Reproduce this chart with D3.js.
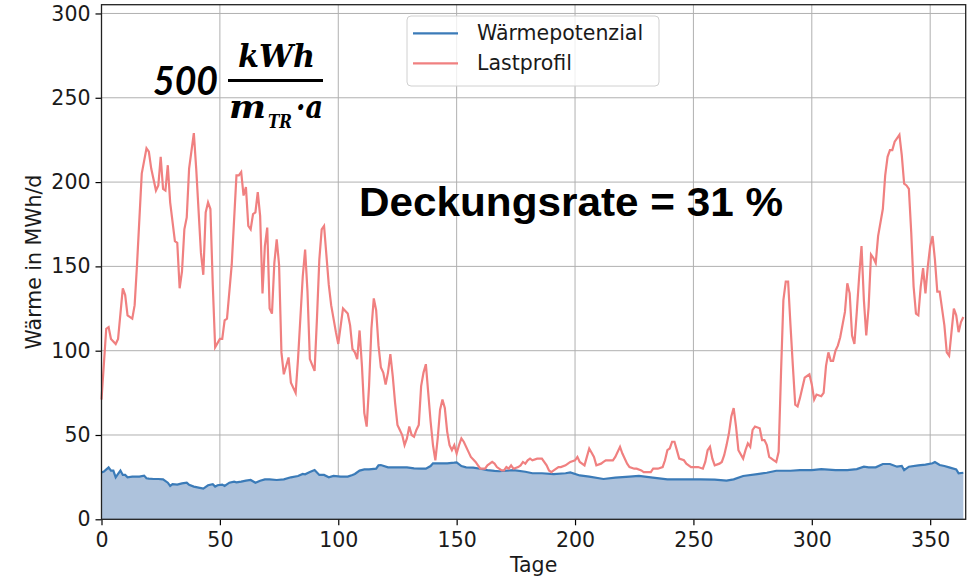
<!DOCTYPE html>
<html>
<head>
<meta charset="utf-8">
<script src="https://cdn.jsdelivr.net/npm/d3@7"></script>
<style>
  body { margin: 0; background: #fff; }
  svg { display: block; font-family: "DejaVu Sans", sans-serif; }
</style>
</head>
<body>
<div id="chart"></div>
<script>
// Achsen
const xTicks = [0, 50, 100, 150, 200, 250, 300, 350];
const yTicks = [0, 50, 100, 150, 200, 250, 300];

// Wärmepotenzial [Tag, MWh/d]
const waermepotenzial = [
  [0, 27.7], [1, 28.3], [3, 30.8], [4, 28.9], [5, 28.9], [6, 24.9], [7, 26.9], [8, 28.9], [9, 26.3], [10, 26.3],
  [11, 24.9], [13, 25.3], [16, 25.3], [18, 25.9], [19, 24.3], [20, 24.1], [22, 23.9], [24, 23.9], [26, 23.7], [28, 21.7],
  [29, 19.8], [30, 20.9], [32, 20.6], [34, 21.3], [36, 21.7], [37, 20.4], [39, 19.4], [41, 18.8], [43, 18.2], [45, 20.2],
  [47, 20.8], [48, 19.4], [49, 20.2], [51, 20.6], [52, 19.8], [54, 21.7], [56, 22.3], [57, 21.9], [59, 22.3], [61, 22.9],
  [63, 23.3], [65, 21.7], [67, 22.9], [69, 23.7], [71, 23.7], [74, 23.3], [77, 23.7], [80, 24.9], [83, 25.7], [85, 26.9],
  [86, 26.7], [88, 28.1], [90, 29.2], [92, 26.3], [94, 26.3], [96, 24.9], [98, 25.7], [101, 25.3], [104, 25.3], [106, 26.3],
  [107, 26.9], [109, 28.9], [111, 29.6], [113, 29.6], [116, 30.0], [117, 32.0], [118, 32.2], [121, 30.8], [123, 30.8], [126, 30.8],
  [129, 30.8], [132, 30.2], [135, 30.0], [137, 30.0], [139, 31.6], [140, 33.2], [143, 33.2], [146, 33.2], [149, 33.6], [150, 33.8],
  [152, 31.6], [154, 30.8], [157, 30.6], [160, 30.0], [163, 29.2], [166, 28.7], [168, 28.5], [174, 29.2], [179, 28.2], [182, 27.3],
  [186, 27.3], [191, 26.8], [196, 27.3], [198, 27.8], [202, 26.0], [206, 25.3], [212, 23.9], [217, 24.7], [223, 25.3], [227, 25.7],
  [232, 24.9], [239, 23.7], [246, 23.7], [253, 23.7], [259, 23.5], [264, 22.9], [267, 23.7], [271, 25.7], [277, 26.8], [281, 27.6],
  [285, 28.8], [291, 28.8], [295, 29.2], [300, 29.2], [304, 29.8], [310, 29.2], [315, 29.2], [319, 29.8], [322, 31.2], [324, 30.8],
  [327, 30.8], [330, 32.8], [333, 32.8], [336, 31.2], [338, 31.6], [339, 29.2], [341, 31.2], [345, 32.0], [348, 32.4], [351, 33.2],
  [352, 34.0], [354, 32.2], [356, 31.6], [358, 30.8], [361, 29.6], [362, 27.3], [364, 27.6]
];

// Lastprofil [Tag, MWh/d]
const lastprofil = [
  [0, 71], [2, 113], [3, 114], [4, 107], [6, 104], [7, 107], [9, 137], [10, 133], [11, 121], [13, 119],
  [14, 127], [15, 151], [17, 205], [19, 220], [20, 218], [21, 208], [23, 195], [24, 198], [25, 215], [26, 196],
  [27, 195], [28, 210], [29, 188], [31, 165], [32, 164], [33, 137], [34, 147], [35, 172], [36, 179], [37, 208],
  [39, 229], [40, 208], [42, 158], [43, 145], [44, 182], [45, 188], [46, 184], [47, 139], [48, 102], [50, 107],
  [51, 107], [52, 118], [53, 119], [55, 151], [57, 204], [58, 204], [59, 206], [60, 192], [61, 197], [62, 174],
  [63, 172], [64, 181], [65, 182], [66, 194], [67, 180], [68, 134], [69, 162], [70, 173], [71, 125], [72, 122],
  [73, 152], [74, 166], [75, 151], [76, 99], [77, 86], [79, 96], [80, 81], [82, 75], [83, 95], [85, 144],
  [86, 160], [87, 135], [88, 95], [90, 88], [91, 119], [92, 154], [93, 172], [94, 174], [96, 139], [97, 127],
  [99, 111], [100, 104], [102, 125], [104, 122], [105, 115], [106, 101], [107, 99], [108, 95], [109, 112], [110, 91],
  [111, 63], [112, 55], [113, 79], [114, 113], [115, 131], [116, 124], [117, 103], [118, 90], [119, 87], [120, 80],
  [121, 87], [122, 98], [123, 85], [124, 69], [125, 56], [126, 53], [127, 50], [128, 44], [129, 48], [130, 55],
  [131, 50], [132, 49], [133, 53], [134, 56], [135, 79], [136, 87], [137, 92], [138, 75], [139, 58], [140, 44],
  [141, 35], [142, 48], [143, 65], [144, 71], [145, 66], [146, 52], [147, 44], [148, 41], [149, 44], [150, 39],
  [151, 44], [152, 48], [153, 46], [155, 40], [156, 37], [158, 34], [159, 32], [160, 30], [162, 30], [163, 32],
  [165, 34], [166, 33], [167, 31], [169, 29], [170, 29], [171, 31], [172, 30], [173, 32], [174, 30], [176, 31],
  [177, 32], [178, 34], [179, 33], [180, 35], [181, 36], [182, 35], [184, 36], [185, 36], [186, 36], [188, 32],
  [189, 29], [190, 28], [191, 29], [193, 31], [194, 31], [196, 32], [197, 33], [198, 34], [200, 35], [201, 37],
  [202, 34], [204, 32], [205, 37], [206, 42], [208, 37], [209, 32], [211, 33], [212, 34], [213, 35], [216, 35],
  [217, 37], [219, 43], [220, 39], [222, 33], [223, 31], [225, 30], [226, 30], [228, 29], [229, 28], [230, 28],
  [232, 28], [233, 30], [235, 30], [237, 31], [238, 35], [239, 41], [240, 42], [241, 46], [242, 46], [243, 41],
  [244, 36], [246, 35], [247, 33], [249, 31], [250, 31], [252, 31], [254, 30], [255, 34], [256, 41], [257, 43],
  [258, 36], [259, 32], [261, 33], [262, 34], [263, 38], [264, 44], [265, 51], [266, 61], [267, 66], [268, 55],
  [269, 41], [271, 36], [272, 41], [273, 45], [274, 43], [275, 53], [276, 55], [278, 54], [279, 47], [280, 47],
  [281, 44], [282, 37], [283, 36], [284, 35], [285, 34], [286, 40], [287, 87], [288, 130], [289, 141], [290, 141],
  [291, 115], [292, 91], [293, 68], [294, 67], [295, 72], [297, 84], [298, 85], [299, 86], [300, 80], [301, 71],
  [302, 74], [304, 73], [305, 75], [306, 91], [307, 99], [308, 94], [309, 94], [310, 100], [311, 103], [312, 108],
  [314, 123], [315, 140], [316, 134], [317, 109], [318, 104], [319, 123], [320, 144], [321, 162], [322, 130], [323, 109],
  [324, 126], [325, 157], [326, 155], [327, 152], [328, 168], [330, 184], [331, 204], [332, 215], [333, 219], [334, 219],
  [335, 224], [337, 228], [338, 216], [339, 199], [340, 198], [341, 196], [342, 170], [343, 138], [344, 122], [345, 121],
  [346, 138], [347, 149], [348, 134], [349, 150], [350, 162], [351, 168], [352, 154], [353, 135], [354, 135], [356, 115],
  [357, 99], [358, 97], [359, 111], [360, 125], [361, 121], [362, 111], [363, 117], [364, 120]
];

const width = 973, height = 581;
const margin = { top: 4.7, right: 7.3, bottom: 61.7, left: 101.5 };

const svg = d3.select("#chart").append("svg")
  .attr("width", width)
  .attr("height", height);

const x = d3.scaleLinear().domain([0, 365]).range([margin.left, width - margin.right]);
const y = d3.scaleLinear().domain([0, 305.2]).range([height - margin.bottom, margin.top]);

// Gitter
svg.append("g")
  .selectAll("line")
  .data(xTicks)
  .join("line")
  .attr("x1", d => x(d)).attr("x2", d => x(d))
  .attr("y1", y.range()[0]).attr("y2", y.range()[1])
  .attr("stroke", "#b0b0b0").attr("stroke-width", 1);

svg.append("g")
  .selectAll("line")
  .data(yTicks)
  .join("line")
  .attr("x1", x.range()[0]).attr("x2", x.range()[1])
  .attr("y1", d => y(d)).attr("y2", d => y(d))
  .attr("stroke", "#b0b0b0").attr("stroke-width", 1);

// Wärmepotenzial als Fläche + Linie
svg.append("path")
  .datum(waermepotenzial)
  .attr("d", d3.area().x(d => x(d[0])).y0(y(0)).y1(d => y(d[1])))
  .attr("fill", "#adc2dc");

svg.append("path")
  .datum(waermepotenzial)
  .attr("d", d3.line().x(d => x(d[0])).y(d => y(d[1])))
  .attr("fill", "none")
  .attr("stroke", "#3b7bb8")
  .attr("stroke-width", 2.2);

svg.append("path")
  .datum(lastprofil)
  .attr("d", d3.line().x(d => x(d[0])).y(d => y(d[1])))
  .attr("fill", "none")
  .attr("stroke", "#f08080")
  .attr("stroke-width", 2.2);

// Achsen
const xAxis = svg.append("g")
  .attr("transform", `translate(0,${y(0)})`)
  .call(d3.axisBottom(x).tickValues(xTicks).tickSize(6).tickPadding(7));
const yAxis = svg.append("g")
  .attr("transform", `translate(${x(0)},0)`)
  .call(d3.axisLeft(y).tickValues(yTicks).tickSize(6).tickPadding(5));

[xAxis, yAxis].forEach(a => {
  a.select(".domain").remove();
  a.selectAll("line").attr("stroke", "#000").attr("stroke-width", 1.2);
  a.selectAll("text").attr("font-family", "DejaVu Sans").attr("font-size", 20.5).attr("fill", "#1a1a1a");
});

// Rahmen
svg.append("rect")
  .attr("x", x.range()[0]).attr("y", y.range()[1])
  .attr("width", x.range()[1] - x.range()[0])
  .attr("height", y.range()[0] - y.range()[1])
  .attr("fill", "none")
  .attr("stroke", "#222")
  .attr("stroke-width", 1.3);

// Achsentitel
svg.append("text")
  .attr("x", (x.range()[0] + x.range()[1]) / 2)
  .attr("y", 572)
  .attr("text-anchor", "middle")
  .attr("font-size", 20.5)
  .attr("fill", "#1a1a1a")
  .text("Tage");

svg.append("text")
  .attr("transform", `translate(41,${(y.range()[0] + y.range()[1]) / 2}) rotate(-90)`)
  .attr("text-anchor", "middle")
  .attr("font-size", 20.5)
  .attr("fill", "#1a1a1a")
  .text("Wärme in MWh/d");

// Legende
const legend = svg.append("g");
legend.append("rect")
  .attr("x", 407).attr("y", 16)
  .attr("width", 252).attr("height", 70)
  .attr("rx", 4)
  .attr("fill", "#fff").attr("fill-opacity", 0.8)
  .attr("stroke", "#d0d0d0");

const legendItems = [
  { name: "Wärmepotenzial", color: "#3b7bb8" },
  { name: "Lastprofil", color: "#f08080" }
];
legendItems.forEach((d, i) => {
  const ly = 33.3 + i * 30;
  legend.append("line")
    .attr("x1", 413).attr("x2", 458)
    .attr("y1", ly).attr("y2", ly)
    .attr("stroke", d.color).attr("stroke-width", 2.2);
  legend.append("text")
    .attr("x", 477).attr("y", ly + 7)
    .attr("font-size", 20.5)
    .attr("fill", "#1a1a1a")
    .text(d.name);
});

// Deckungsrate
svg.append("text")
  .attr("x", 359).attr("y", 215.5)
  .attr("font-family", "Liberation Sans, Arial, sans-serif")
  .attr("font-weight", "bold")
  .attr("font-size", 40)
  .attr("textLength", 424)
  .attr("lengthAdjust", "spacingAndGlyphs")
  .attr("fill", "#000")
  .text("Deckungsrate = 31 %");

// Formel 500 kWh / (m_TR·a)
const f = svg.append("g").attr("fill", "#000")
  .attr("font-weight", "bold").attr("font-style", "italic");
f.append("text")
  .attr("x", 153).attr("y", 95)
  .attr("font-family", "Lato, sans-serif")
  .attr("font-size", 40)
  .attr("textLength", 65).attr("lengthAdjust", "spacingAndGlyphs")
  .text("500");
f.append("line")
  .attr("x1", 228).attr("x2", 323)
  .attr("y1", 80.5).attr("y2", 80.5)
  .attr("stroke", "#000").attr("stroke-width", 3);
f.append("text")
  .attr("x", 238).attr("y", 67)
  .attr("font-family", "DejaVu Serif, serif")
  .attr("font-size", 31)
  .attr("textLength", 77).attr("lengthAdjust", "spacingAndGlyphs")
  .text("kWh");
f.append("text")
  .attr("x", 229).attr("y", 118)
  .attr("font-family", "DejaVu Serif, serif")
  .attr("font-size", 31)
  .attr("textLength", 37).attr("lengthAdjust", "spacingAndGlyphs")
  .text("m");
f.append("text")
  .attr("x", 268).attr("y", 128)
  .attr("font-family", "DejaVu Serif, serif")
  .attr("font-size", 18)
  .attr("textLength", 24).attr("lengthAdjust", "spacingAndGlyphs")
  .text("TR");
f.append("text")
  .attr("x", 296).attr("y", 118)
  .attr("font-family", "DejaVu Serif, serif")
  .attr("font-size", 31)
  .attr("textLength", 27).attr("lengthAdjust", "spacingAndGlyphs")
  .text("·a");
</script>
</body>
</html>
